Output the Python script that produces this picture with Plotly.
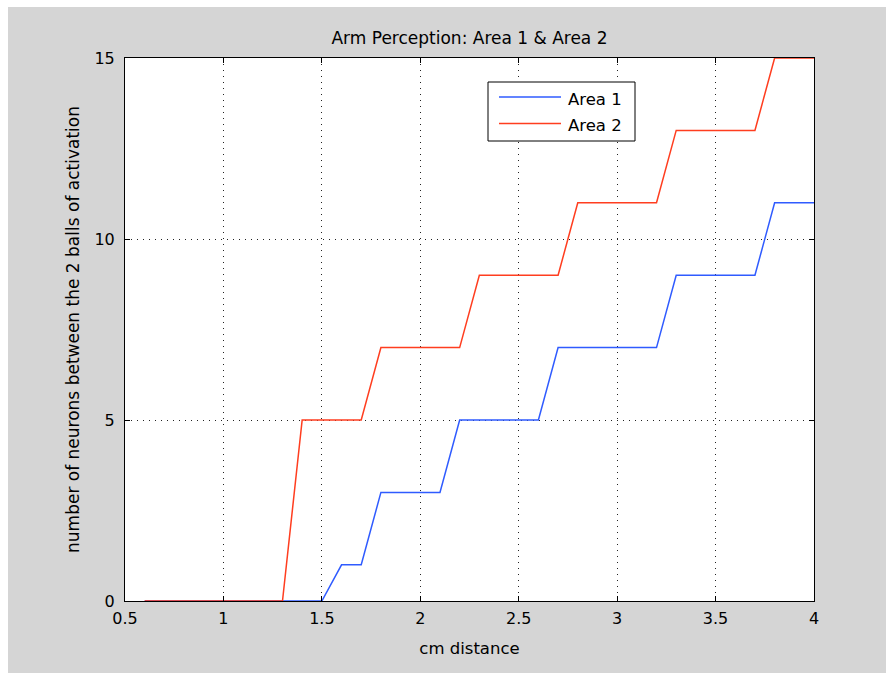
import plotly.graph_objects as go

# Distance between the two stimulation points (cm)
distance_cm = [0.6, 0.7, 0.8, 0.9, 1.0, 1.1, 1.2, 1.3, 1.4, 1.5,
               1.6, 1.7, 1.8, 1.9, 2.0, 2.1, 2.2, 2.3, 2.4, 2.5,
               2.6, 2.7, 2.8, 2.9, 3.0, 3.1, 3.2, 3.3, 3.4, 3.5,
               3.6, 3.7, 3.8, 3.9, 4.0]

# Number of neurons between the two balls of activation
area1 = [0, 0, 0, 0, 0, 0, 0, 0, 0, 0,
         1, 1, 3, 3, 3, 3, 5, 5, 5, 5,
         5, 7, 7, 7, 7, 7, 7, 9, 9, 9,
         9, 9, 11, 11, 11]
area2 = [0, 0, 0, 0, 0, 0, 0, 0, 5, 5,
         5, 5, 7, 7, 7, 7, 7, 9, 9, 9,
         9, 9, 11, 11, 11, 11, 11, 13, 13, 13,
         13, 13, 15, 15, 15]

series_names = ["Area 1", "Area 2"]
series_colors = ["#2f5bff", "#ff3d1f"]

x_ticks = [0.5, 1, 1.5, 2, 2.5, 3, 3.5, 4]
x_tick_labels = ["0.5", "1", "1.5", "2", "2.5", "3", "3.5", "4"]
y_ticks = [0, 5, 10, 15]
y_tick_labels = ["0", "5", "10", "15"]

FONT = "DejaVu Sans"
W, H = 886, 673
L, R, T, B = 125, 72, 58, 72
PW, PH = W - L - R, H - T - B


def px_x(px):
    """pixel column -> paper x"""
    return (px - L) / PW


def px_y(py):
    """pixel row (from top) -> paper y"""
    return (H - B - py) / PH


fig = go.Figure()
for name, ys, color in zip(series_names, [area1, area2], series_colors):
    fig.add_trace(go.Scatter(x=distance_cm, y=ys, mode="lines", name=name,
                             line=dict(color=color, width=1.5), showlegend=False))

axis_common = dict(
    showline=True, linecolor="black", linewidth=1, mirror="ticks",
    ticks="inside", ticklen=5, tickcolor="black",
    showgrid=True, gridcolor="#222222", gridwidth=1, griddash="1px,5px",
    zeroline=False, tickfont=dict(family=FONT, size=16, color="black"),
)

fig.update_xaxes(range=[0.5, 4], tickvals=x_ticks, ticktext=x_tick_labels,
                 ticklabelstandoff=3,
                 title=dict(text="cm distance", standoff=15,
                            font=dict(family=FONT, size=16.5, color="black")),
                 **axis_common)
fig.update_yaxes(range=[0, 15], tickvals=y_ticks, ticktext=y_tick_labels,
                 ticklabelstandoff=6,
                 title=dict(text="number of neurons between the 2 balls of activation",
                            standoff=10,
                            font=dict(family=FONT, size=17, color="black")),
                 **axis_common)

shapes = []
# thin white frame around the grey figure area
shapes.append(dict(type="rect", xref="paper", yref="paper", layer="below",
                   x0=px_x(0), x1=px_x(8), y0=px_y(H), y1=px_y(0),
                   fillcolor="white", line_width=0))
shapes.append(dict(type="rect", xref="paper", yref="paper", layer="below",
                   x0=px_x(0), x1=px_x(W), y0=px_y(7), y1=px_y(0),
                   fillcolor="white", line_width=0))

# boxed legend inside the axes
shapes.append(dict(type="rect", xref="paper", yref="paper", layer="above",
                   x0=px_x(488), x1=px_x(635), y0=px_y(141), y1=px_y(82),
                   fillcolor="white", line=dict(color="black", width=1)))
annotations = []
for i, (name, color) in enumerate(zip(series_names, series_colors)):
    row = 97 + 26.5 * i
    shapes.append(dict(type="line", xref="paper", yref="paper", layer="above",
                       x0=px_x(499), x1=px_x(561), y0=px_y(row), y1=px_y(row),
                       line=dict(color=color, width=1.5)))
    annotations.append(dict(text=name, xref="paper", yref="paper",
                            x=px_x(566), y=px_y(row + 2), xanchor="left", yanchor="middle",
                            showarrow=False,
                            font=dict(family=FONT, size=16.5, color="black")))

fig.update_layout(
    width=W, height=H,
    margin=dict(l=L, r=R, t=T, b=B, autoexpand=False),
    paper_bgcolor="#d5d5d5", plot_bgcolor="white",
    title=dict(text="Arm Perception: Area 1 & Area 2", x=0.5, xref="paper",
               y=1 - 38 / H, yref="container", xanchor="center", yanchor="middle",
               font=dict(family=FONT, size=17, color="black")),
    shapes=shapes, annotations=annotations,
    showlegend=False,
)

fig.write_html("out.html")
